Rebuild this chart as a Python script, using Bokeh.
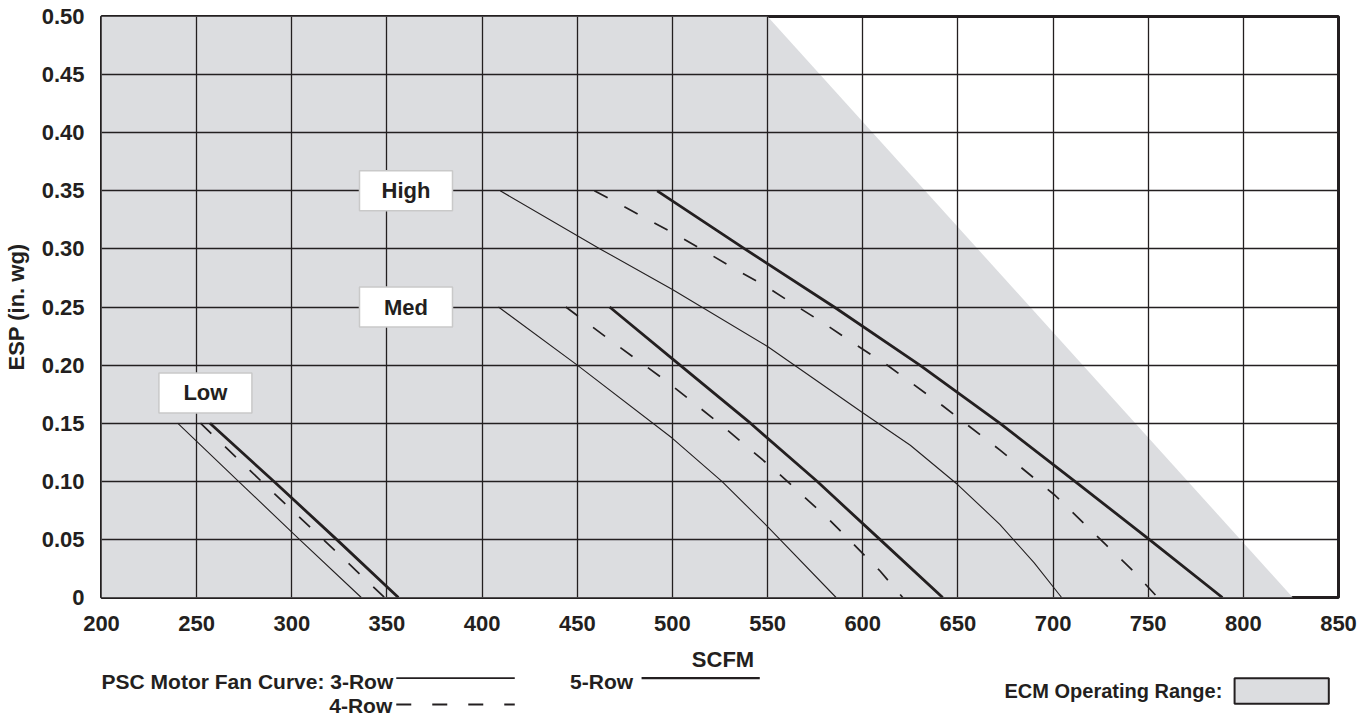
from bokeh.plotting import figure
from bokeh.models import Range1d, FixedTicker, NumeralTickFormatter, Label
from bokeh.layouts import column
from bokeh.embed import file_html
from bokeh.resources import INLINE
from bokeh.core.properties import value

# ---------------- data ----------------
scfm_ticks = [200, 250, 300, 350, 400, 450, 500, 550, 600, 650, 700, 750, 800, 850]
esp_ticks = [0, 0.05, 0.10, 0.15, 0.20, 0.25, 0.30, 0.35, 0.40, 0.45, 0.50]

# ECM operating range (shaded region)
ecm_scfm = [200, 200, 550, 826]
ecm_esp = [0, 0.50, 0.50, 0]

# Low speed
low_3row_scfm = [240, 272, 304, 336.5]
low_3row_esp = [0.15, 0.10, 0.05, 0]
low_4row_scfm = [252, 284, 316.5, 348.7]
low_4row_esp = [0.15, 0.10, 0.05, 0]
low_5row_scfm = [257, 290.5, 323.5, 356]
low_5row_esp = [0.15, 0.10, 0.05, 0]

# Medium speed
med_3row_scfm = [408.6, 450, 500, 526, 550, 586]
med_3row_esp = [0.25, 0.20, 0.137, 0.10, 0.061, 0]
med_4row_scfm = [444, 466, 497, 526, 555, 583, 609, 621]
med_4row_esp = [0.25, 0.223, 0.186, 0.148, 0.108, 0.066, 0.023, 0]
med_5row_scfm = [467, 504, 541, 576, 609, 642]
med_5row_esp = [0.25, 0.20, 0.15, 0.10, 0.05, 0]

# High speed
high_3row_scfm = [409.5, 462, 500, 550, 600, 625, 650, 672, 690, 704.5]
high_3row_esp = [0.35, 0.30, 0.265, 0.216, 0.159, 0.131, 0.097, 0.063, 0.030, 0]
high_4row_scfm = [459, 483, 500, 516, 532.5, 549, 565, 580.5, 594, 612, 642, 672, 701, 728, 742, 755]
high_4row_esp = [0.35, 0.329, 0.314, 0.299, 0.283, 0.268, 0.251, 0.235, 0.22, 0.201, 0.165, 0.127,
                 0.088, 0.045, 0.023, 0]
high_5row_scfm = [492, 538, 585, 630, 672, 711.5, 750.5, 789]
high_5row_esp = [0.35, 0.30, 0.25, 0.20, 0.15, 0.10, 0.05, 0]

speed_names = ["Low", "Med", "High"]
speed_label_scfm = [254.6, 360, 360]
speed_label_esp = [0.176, 0.25, 0.35]

# ---------------- style ----------------
INK = "#231f20"
ECM_FILL = "#dcdde0"
FONT = "Liberation Sans"

W = 1370
p = figure(width=W, height=645, x_range=Range1d(200, 850), y_range=Range1d(0, 0.5),
           output_backend="svg", toolbar_location=None,
           min_border_left=100, min_border_right=32, min_border_top=16, min_border_bottom=48)
p.background_fill_color = "white"
p.border_fill_color = "white"
p.outline_line_color = INK
p.outline_line_width = 3

# shaded ECM region below the grid
p.patch(ecm_scfm, ecm_esp, fill_color=ECM_FILL, line_color=None, level="image")

# grid
p.xgrid.ticker = FixedTicker(ticks=scfm_ticks)
p.ygrid.ticker = FixedTicker(ticks=esp_ticks)
for g in (p.xgrid, p.ygrid):
    g.grid_line_color = INK
    g.grid_line_width = 1.3

# axes
p.xaxis.ticker = FixedTicker(ticks=scfm_ticks)
p.yaxis.ticker = FixedTicker(ticks=esp_ticks)
p.yaxis.formatter = NumeralTickFormatter(format="0.00")
p.yaxis.major_label_overrides = {0: "0"}
for ax in (p.xaxis, p.yaxis):
    ax.axis_line_color = None
    ax.major_tick_line_color = None
    ax.minor_tick_line_color = None
    ax.major_tick_out = 0
    ax.major_tick_in = 0
    ax.major_label_text_font = FONT
    ax.major_label_text_font_style = "bold"
    ax.major_label_text_font_size = "22px"
    ax.major_label_text_color = INK
p.xaxis.major_label_standoff = 18
p.yaxis.major_label_standoff = 17
p.yaxis.axis_label = "ESP (in. wg)"
p.yaxis.axis_label_text_font = FONT
p.yaxis.axis_label_text_font_style = "bold"
p.yaxis.axis_label_text_font_size = "22px"
p.yaxis.axis_label_text_color = INK
p.yaxis.axis_label_standoff = 10

DASH = "15 19"
series = [
    (low_3row_scfm, low_3row_esp, 1.1, "solid"),
    (low_4row_scfm, low_4row_esp, 1.7, DASH),
    (low_5row_scfm, low_5row_esp, 2.8, "solid"),
    (med_3row_scfm, med_3row_esp, 1.1, "solid"),
    (med_4row_scfm, med_4row_esp, 1.7, DASH),
    (med_5row_scfm, med_5row_esp, 2.8, "solid"),
    (high_3row_scfm, high_3row_esp, 1.1, "solid"),
    (high_4row_scfm, high_4row_esp, 1.7, DASH),
    (high_5row_scfm, high_5row_esp, 2.8, "solid"),
]
for xs, ys, w, dash in series:
    p.line(xs, ys, line_color=INK, line_width=w, line_dash=dash, line_join="round")

# speed labels
p.rect(speed_label_scfm, speed_label_esp, width=93, height=40,
       width_units="screen", height_units="screen",
       fill_color="white", line_color="#c9c9c9", line_width=1.5)
p.text(speed_label_scfm, speed_label_esp, text=speed_names,
       text_align="center", text_baseline="middle",
       text_font=value(FONT), text_font_style="bold", text_font_size="22px", text_color=INK)

# ---------------- bottom strip: axis title + legend ----------------
# the strip's frame is aligned with the main frame (page x 100..1338), so its x units are page pixels
H2 = 71
q = figure(width=W, height=H2, x_range=Range1d(100, 1338), y_range=Range1d(H2, 0),
           x_axis_type=None, y_axis_type=None, output_backend="svg", toolbar_location=None,
           min_border=0, min_border_left=100, min_border_right=32, min_border_top=0, min_border_bottom=0)
q.outline_line_color = None
q.background_fill_color = "white"
q.border_fill_color = "white"


def add_label(x, y, text, align, size):
    q.add_layout(Label(x=x, y=y, text=text, text_align=align, text_baseline="middle",
                       text_font=FONT, text_font_style="bold", text_font_size=size,
                       text_color=INK))


add_label(722, 14, "SCFM", "center", "22px")
add_label(392, 35.5, "PSC Motor Fan Curve: 3-Row", "right", "21px")
add_label(391, 59.5, "4-Row", "right", "21px")
add_label(632, 35.5, "5-Row", "right", "21px")
add_label(1221.7, 45, "ECM Operating Range:", "right", "20px")

q.segment(x0=[395], y0=[32.7], x1=[513.6], y1=[32.7], line_color=INK, line_width=1.8)
q.segment(x0=[395], y0=[59], x1=[513.6], y1=[59], line_color=INK, line_width=1.8, line_dash="15 21")
q.segment(x0=[640.5], y0=[32.7], x1=[758.8], y1=[32.7], line_color=INK, line_width=2.2)
q.quad(left=[1234], right=[1328.3], top=[32.7], bottom=[58.3],
       fill_color=ECM_FILL, line_color=INK, line_width=2)

layout = column(p, q, spacing=0)
open("out.html", "w").write(file_html(layout, INLINE))
